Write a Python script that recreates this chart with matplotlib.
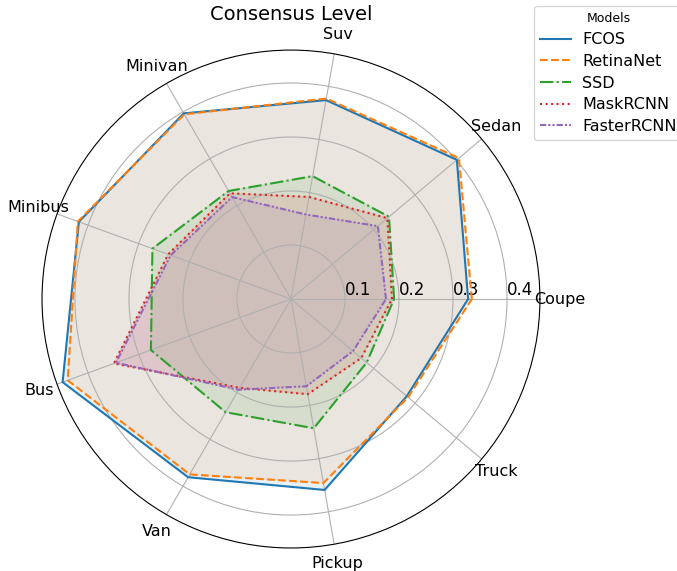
import numpy as np
import matplotlib
matplotlib.use('Agg')
import matplotlib.pyplot as plt

# categories and per-model consensus values
categories = ['Coupe', 'Sedan', 'Suv', 'Minivan', 'Minibus', 'Bus', 'Van', 'Pickup', 'Truck']
models = ['FCOS', 'RetinaNet', 'SSD', 'MaskRCNN', 'FasterRCNN']

fcos = [0.328, 0.401, 0.374, 0.397, 0.418, 0.450, 0.381, 0.359, 0.280]
retinanet = [0.335, 0.406, 0.377, 0.395, 0.420, 0.440, 0.375, 0.346, 0.283]
ssd = [0.191, 0.237, 0.231, 0.231, 0.273, 0.276, 0.242, 0.243, 0.183]
maskrcnn = [0.187, 0.233, 0.192, 0.226, 0.242, 0.349, 0.190, 0.179, 0.170]
fasterrcnn = [0.176, 0.210, 0.159, 0.218, 0.237, 0.345, 0.194, 0.164, 0.150]

series = [fcos, retinanet, ssd, maskrcnn, fasterrcnn]
styles = ['-', '--', '-.', ':', (0, (3, 1, 1, 1, 1, 1))]
colors = ['tab:blue', 'tab:orange', 'tab:green', 'tab:red', 'tab:purple']

angles = np.linspace(0, 2 * np.pi, len(categories), endpoint=False)
angles_closed = np.concatenate([angles, angles[:1]])

fig = plt.figure(figsize=(6.77, 5.71), dpi=100)
ax = fig.add_axes([0.062, 0.0403, 0.7356, 0.872], projection='polar')

for name, vals, ls, c in zip(models, series, styles, colors):
    v = np.concatenate([vals, vals[:1]])
    ax.plot(angles_closed, v, linestyle=ls, color=c, linewidth=1.5, label=name)
    ax.fill(angles_closed, v, color=c, alpha=0.1)

ax.set_xticks(angles)
ax.set_xticklabels(categories, fontsize=11.5)
ax.set_yticks([0.1, 0.2, 0.3, 0.4])
ax.set_yticklabels(['0.1', '0.2', '0.3', '0.4'], fontsize=12)
ax.set_rlabel_position(0)
ax.set_ylim(0, 0.461)
ax.grid(True, color='#b0b0b0')

ax.set_title('Consensus Level', fontsize=14, y=1.043)

fig.legend(title='Models', loc='upper left', bbox_to_anchor=(534 / 677, 1 - 6 / 571),
           borderaxespad=0, fontsize=11.5, title_fontsize=9, labelspacing=0.42,
           handlelength=1.9, handletextpad=0.7)

fig.savefig('out.png', dpi=100)
